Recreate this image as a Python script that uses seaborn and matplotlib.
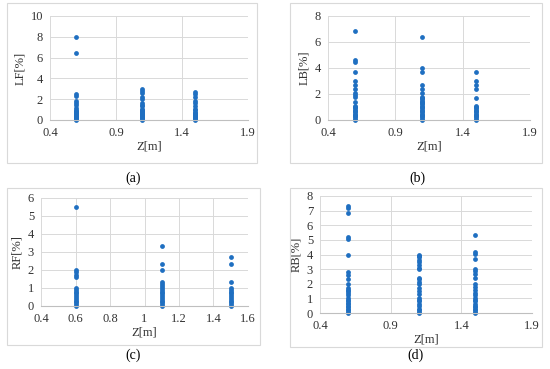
import matplotlib
matplotlib.use("Agg")
import matplotlib.pyplot as plt
import seaborn as sns
import pandas as pd
from matplotlib.patches import Rectangle

# values, one list per height
lf_06 = [8.0, 6.4, 2.5, 2.3, 1.8, 1.6, 1.4, 1.2, 1.0, 0.9, 0.8, 0.7, 0.6, 0.5, 0.4, 0.3, 0.2, 0.1, 0.05, 0.0]
lf_11 = [3.0, 2.8, 2.6, 2.2, 2.0, 1.6, 1.4, 1.3, 1.1, 1.0, 0.9, 0.8, 0.7, 0.6, 0.5, 0.4, 0.3, 0.2, 0.1, 0.0]
lf_15 = [2.7, 2.5, 2.2, 1.8, 1.6, 1.3, 1.1, 1.0, 0.8, 0.7, 0.6, 0.5, 0.4, 0.3, 0.2, 0.1, 0.0]

lb_06 = [6.85, 4.65, 4.5, 3.7, 3.0, 2.7, 2.4, 2.1, 1.9, 1.8, 1.4, 1.1, 1.0, 0.9, 0.8, 0.7, 0.6, 0.5, 0.4, 0.3, 0.2, 0.1, 0.0]
lb_11 = [6.35, 4.0, 3.7, 2.7, 2.4, 2.1, 1.8, 1.7, 1.6, 1.5, 1.4, 1.3, 1.2, 1.1, 1.0, 0.9, 0.8, 0.7, 0.6, 0.5, 0.4, 0.3, 0.2, 0.1, 0.0]
lb_15 = [3.7, 3.0, 2.7, 2.4, 1.7, 1.1, 1.0, 0.9, 0.8, 0.7, 0.6, 0.5, 0.4, 0.3, 0.2, 0.1, 0.0]

rf_06 = [5.5, 2.0, 1.9, 1.7, 1.6, 1.0, 0.9, 0.8, 0.7, 0.6, 0.5, 0.4, 0.3, 0.2, 0.1, 0.0]
rf_11 = [3.35, 2.35, 2.0, 1.35, 1.25, 1.1, 1.0, 0.9, 0.8, 0.7, 0.6, 0.5, 0.4, 0.3, 0.2, 0.1, 0.0]
rf_15 = [2.7, 2.35, 1.35, 1.0, 0.9, 0.8, 0.7, 0.6, 0.5, 0.4, 0.3, 0.2, 0.1, 0.0]

rb_06 = [7.35, 7.2, 6.85, 5.2, 5.05, 4.0, 2.8, 2.6, 2.3, 2.0, 1.7, 1.6, 1.5, 1.4, 1.2, 1.0, 0.9, 0.8, 0.7, 0.6, 0.5, 0.4, 0.3, 0.2, 0.1, 0.0]
rb_11 = [4.0, 3.9, 3.8, 3.6, 3.5, 3.3, 3.1, 3.0, 2.4, 2.3, 2.1, 2.0, 1.7, 1.5, 1.3, 1.0, 0.9, 0.8, 0.6, 0.5, 0.3, 0.2, 0.1, 0.0]
rb_15 = [5.35, 4.2, 4.05, 3.7, 3.0, 2.9, 2.7, 2.4, 2.0, 1.8, 1.6, 1.4, 1.2, 1.0, 0.9, 0.8, 0.6, 0.5, 0.4, 0.3, 0.2, 0.1, 0.0]

heights = [0.6, 1.1, 1.5]
x_ticks_abd = [0.4, 0.9, 1.4, 1.9]
x_ticks_c = [0.4, 0.6, 0.8, 1.0, 1.2, 1.4, 1.6]
x_labels_c = ["0.4", "0.6", "0.8", "1", "1.2", "1.4", "1.6"]


def to_frame(groups):
    rows = []
    for z, vals in zip(heights, groups):
        rows += [(z, v) for v in vals]
    return pd.DataFrame(rows, columns=["z", "v"])


sns.set_theme(style="white")
plt.rcParams["font.family"] = ["Liberation Serif", "DejaVu Serif"]

W, H = 550, 369
fig = plt.figure(figsize=(W / 100, H / 100), dpi=100)
fig.patch.set_facecolor("white")


def px_axes(l, t, r, b):
    return fig.add_axes([l / W, 1 - b / H, (r - l) / W, (b - t) / H])


def frame(l, t, r, b):
    fig.patches.append(Rectangle((l / W, 1 - b / H), (r - l) / W, (b - t) / H,
                                 transform=fig.transFigure, fill=False,
                                 edgecolor="#d9d9d9", linewidth=0.8))


panels = [
    # data, ylabel, ylim, yticks, xticks, xlabels, axes box, panel box, caption
    ([lf_06, lf_11, lf_15], "LF[%]", 10, range(0, 11, 2), x_ticks_abd, None,
     (50, 16, 248, 120), (7, 3, 257, 163), "(a)", (133, 178)),
    ([lb_06, lb_11, lb_15], "LB[%]", 8, range(0, 9, 2), x_ticks_abd, None,
     (328, 16, 530, 120), (290, 3, 542, 163), "(b)", (417, 178)),
    ([rf_06, rf_11, rf_15], "RF[%]", 6, range(0, 7), x_ticks_c, x_labels_c,
     (41, 198, 248, 306), (7, 188, 260, 345), "(c)", (133, 355)),
    ([rb_06, rb_11, rb_15], "RB[%]", 8, range(0, 9), x_ticks_abd, None,
     (320, 196, 532, 313), (290, 188, 542, 347), "(d)", (415, 355)),
]

for groups, ylab, ymax, yticks, xticks, xlabels, box, pbox, cap, cpos in panels:
    frame(*pbox)
    ax = px_axes(*box)
    df = to_frame(groups)
    sns.scatterplot(data=df, x="z", y="v", ax=ax, color="#1f6fc1",
                    s=12, linewidth=0, legend=False, clip_on=False)
    ax.set_xlim(xticks[0], xticks[-1])
    ax.set_ylim(0, ymax)
    ax.set_xticks(xticks)
    if xlabels:
        ax.set_xticklabels(xlabels)
    ax.set_yticks(list(yticks))
    ax.grid(True, color="#d9d9d9", linewidth=0.7)
    ax.set_axisbelow(True)
    for sp in ["top", "right", "left"]:
        ax.spines[sp].set_visible(False)
    ax.spines["bottom"].set_color("#bfbfbf")
    ax.spines["bottom"].set_linewidth(0.8)
    ax.tick_params(axis="both", length=0, labelsize=9, colors="#333333")
    ax.tick_params(axis="x", pad=5)
    ax.tick_params(axis="y", pad=5)
    ax.set_xlabel("Z[m]", fontsize=9, color="#333333", labelpad=1)
    ax.set_ylabel(ylab, fontsize=9, color="#333333", labelpad=3)
    fig.text(cpos[0] / W, 1 - cpos[1] / H, cap, ha="center", va="center",
             fontsize=10, color="black")

fig.savefig("out.png", dpi=100)
